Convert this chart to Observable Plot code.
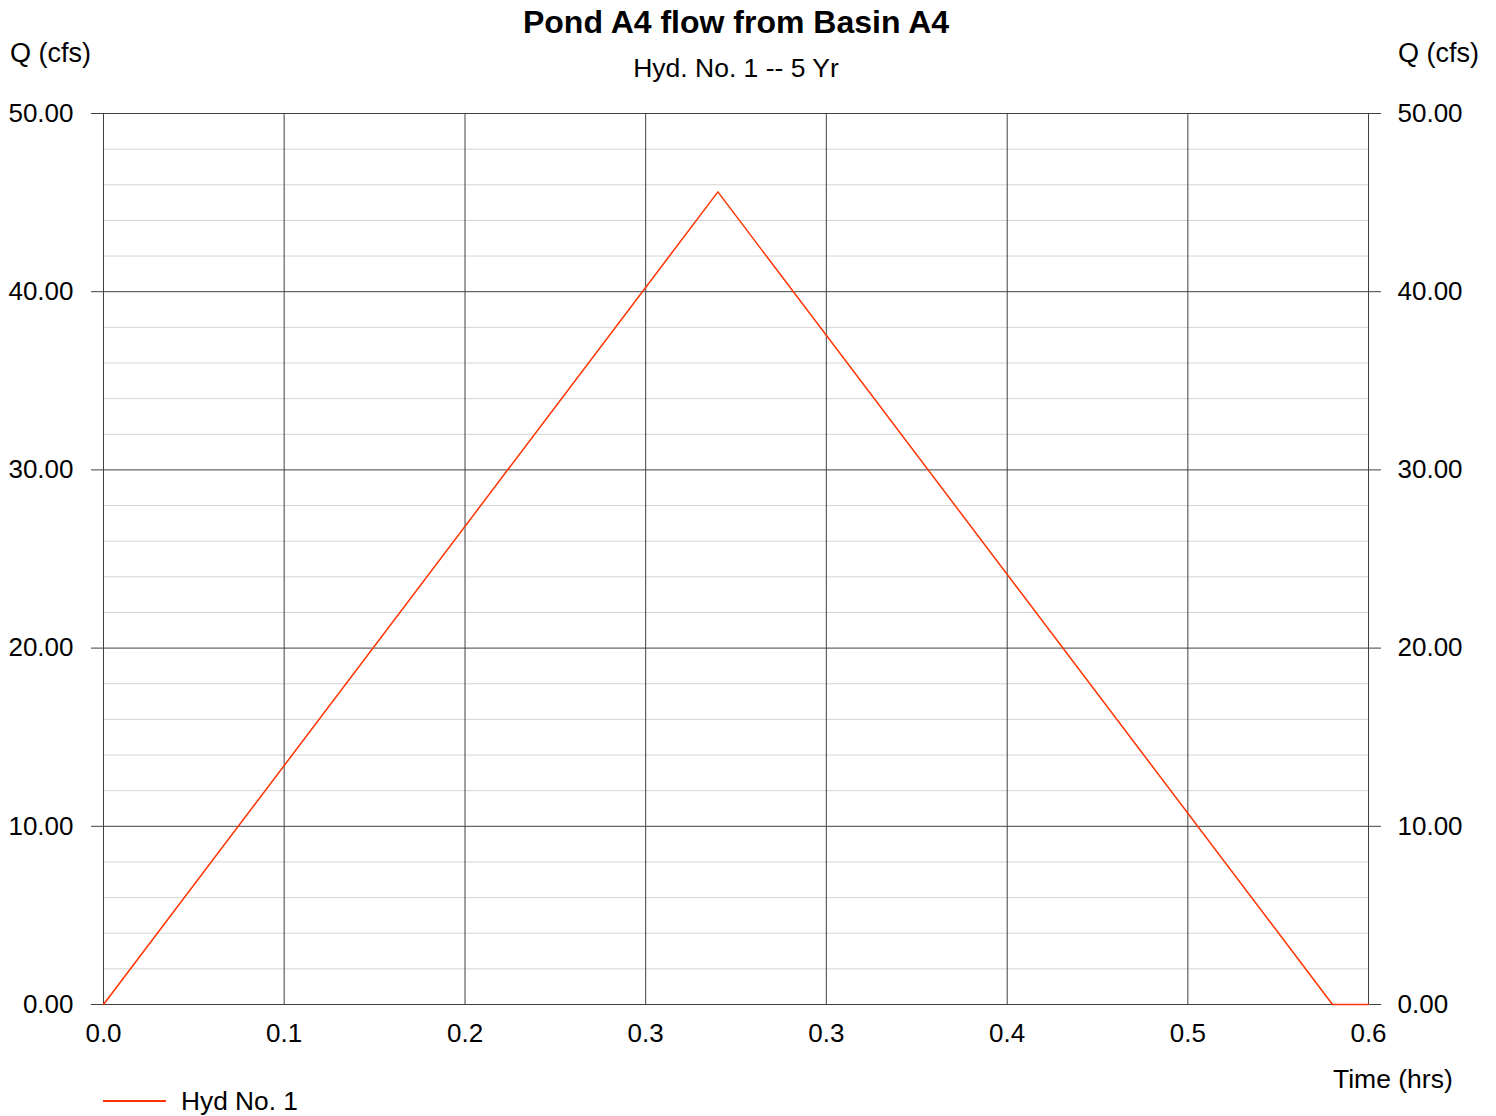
<!DOCTYPE html>
<html><head><meta charset="utf-8">
<script src="https://cdn.jsdelivr.net/npm/d3@7"></script>
<script src="https://cdn.jsdelivr.net/npm/@observablehq/plot@0.6"></script>
<style>
body{margin:0;background:#fff;font-family:"Liberation Sans",Arial,sans-serif;color:#000}
#wrap{position:relative;width:1496px;height:1116px;overflow:hidden}
.t{position:absolute;white-space:nowrap;line-height:1}
#chart{position:absolute;left:0;top:0}
</style></head><body>
<div id="wrap">
<div id="chart"></div>
<div class="t" style="left:0;width:1472px;text-align:center;top:6px;font-size:32px;font-weight:bold">Pond A4 flow from Basin A4</div>
<div class="t" style="left:0;width:1472px;text-align:center;top:55px;font-size:26.5px">Hyd. No. 1 -- 5 Yr</div>
<div class="t" style="left:10px;top:40px;font-size:27px">Q (cfs)</div>
<div class="t" style="left:1398px;top:40px;font-size:27px">Q (cfs)</div>
<div class="t" style="left:1333px;top:1066px;font-size:26.5px">Time (hrs)</div>
<div style="position:absolute;left:103px;top:1100px;width:63px;height:0;border-top:2px solid #ff3300"></div>
<div class="t" style="left:181px;top:1088px;font-size:26.3px">Hyd No. 1</div>
</div>
<script>
const timeHrs = [0, 0.2833, 0.5667, 0.5833];
const flowCfs = [0, 45.6, 0, 0];
const xTicks = [0, 0.0833, 0.1667, 0.25, 0.3333, 0.4167, 0.5, 0.5833];
const xTickLabels = ["0.0", "0.1", "0.2", "0.3", "0.3", "0.4", "0.5", "0.6"];
const yMajor = [0, 10, 20, 30, 40, 50];
const yMinor = [2, 4, 6, 8, 12, 14, 16, 18, 22, 24, 26, 28, 32, 34, 36, 38, 42, 44, 46, 48];

const data = timeHrs.map((t, i) => ({t, q: flowCfs[i]}));
const fmtY = d => d.toFixed(2);
const fmtX = d => xTickLabels[xTicks.indexOf(d)];

const chart = Plot.plot({
  width: 1496,
  height: 1050,
  marginTop: 113,
  marginLeft: 103,
  marginRight: 128,
  marginBottom: 46,
  style: {fontFamily: '"Liberation Sans", Arial, sans-serif', fontSize: "26px", color: "#000", background: "#fff"},
  x: {domain: [0, 0.5833]},
  y: {domain: [0, 50]},
  marks: [
    Plot.ruleY(yMinor, {stroke: "#d4d4d4", strokeWidth: 1}),
    Plot.ruleX(xTicks, {stroke: "#404040", strokeWidth: 1}),
    Plot.ruleY(yMajor, {stroke: "#404040", strokeWidth: 1}),
    Plot.axisY({anchor: "left", ticks: yMajor, tickSize: 12, tickPadding: 18, tickFormat: fmtY, stroke: "#404040", fill: "#000", label: null}),
    Plot.axisY({anchor: "right", ticks: yMajor, tickSize: 12, tickPadding: 17, tickFormat: fmtY, stroke: "#404040", fill: "#000", label: null}),
    Plot.axisX({ticks: xTicks, tickSize: 0, tickPadding: 19, tickFormat: fmtX, fill: "#000", label: null}),
    Plot.line(data, {x: "t", y: "q", stroke: "#ff3300", strokeWidth: 1.5})
  ]
});
document.getElementById("chart").appendChild(chart);
</script>
</body></html>
